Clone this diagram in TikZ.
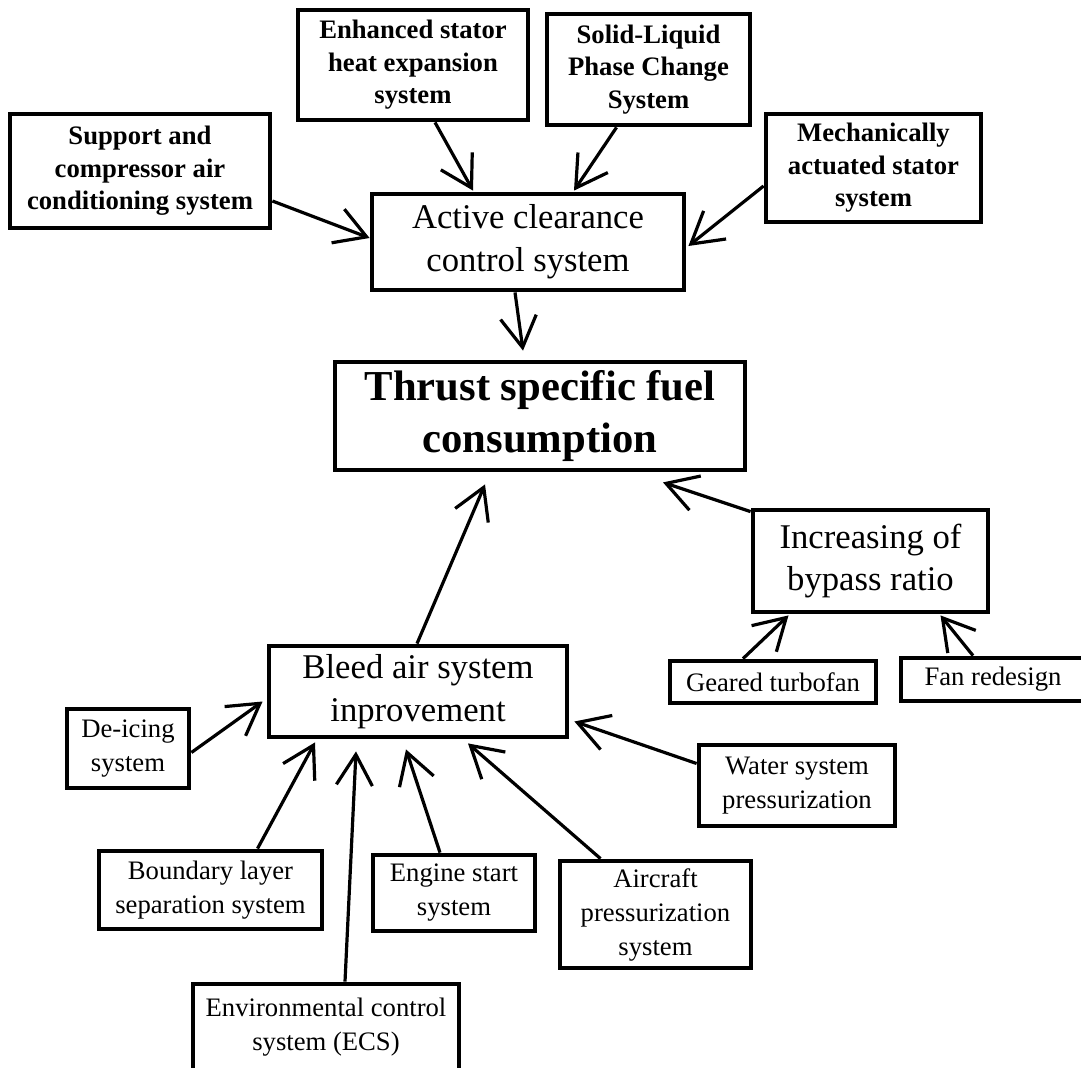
\documentclass[tikz,border=0pt]{standalone}
\usepackage{fontspec}
\setmainfont{Liberation Serif}
\usetikzlibrary{arrows.meta,calc}
\begin{document}
\begin{tikzpicture}[x=0.75pt,y=-0.75pt,
  box/.style={draw, line width=3.6pt, align=center, inner sep=0pt},
  topbox/.style={box, font=\fontsize{20}{24.4}\selectfont\bfseries},
  lowbox/.style={box, font=\fontsize{20}{25.5}\selectfont},
  midbox/.style={box, font=\fontsize{26}{32}\selectfont},
  mainbox/.style={box, font=\fontsize{32}{39}\selectfont\bfseries},
  arr/.style={-{Straight Barb[length=23pt,width=27pt]}, line width=2.4pt}]

\useasboundingbox (0,0) rectangle (1081,1067);

\node[topbox, minimum width=195pt, minimum height=85.5pt] (supp) at (140,171) {Support and\\compressor air\\conditioning system};
\node[topbox, minimum width=172.5pt, minimum height=82.5pt] (enh) at (413,65) {Enhanced stator\\heat expansion\\system};
\node[topbox, minimum width=152.25pt, minimum height=83.25pt] (sol) at (648.5,69.5) {Solid-Liquid\\Phase Change\\System};
\node[topbox, minimum width=161.25pt, minimum height=81pt] (mech) at (873.5,168) {Mechanically\\actuated stator\\system};

\node[midbox, minimum width=234pt, minimum height=72pt] (acs) at (528,242) {Active clearance\\control system};
\node[mainbox, minimum width=307.5pt, minimum height=81pt] (tsfc) at (540,416) {Thrust specific fuel\\consumption};
\node[midbox, minimum width=176.25pt, minimum height=76.5pt] (inc) at (870.5,561) {Increasing of\\bypass ratio};
\node[midbox, minimum width=223.5pt, minimum height=68.25pt] (bleed) at (418,691.5) {Bleed air system\\inprovement};

\node[lowbox, minimum width=91.5pt, minimum height=59.25pt] (deice) at (128,748.5) {De-icing\\system};
\node[lowbox, minimum width=154.5pt, minimum height=31.5pt] (geared) at (773,682) {Geared turbofan};
\node[lowbox, minimum width=138pt, minimum height=32.25pt] (fan) at (993,679.5) {Fan redesign};
\node[lowbox, minimum width=147pt, minimum height=60.75pt] (water) at (797,785.5) {Water system\\pressurization};
\node[lowbox, minimum width=167.25pt, minimum height=58.5pt] (bound) at (210.5,890) {Boundary layer\\separation system};
\node[lowbox, minimum width=121.5pt, minimum height=57pt] (engine) at (454,893) {Engine start\\system};
\node[lowbox, minimum width=143.25pt, minimum height=80.25pt] (aircr) at (655.5,914.5) {Aircraft\\pressurization\\system};
\node[lowbox, minimum width=199.5pt, minimum height=64.5pt] (ecs) at (326,1027) {Environmental control\\system (ECS)};

\draw[arr] ($(supp.east)+(0,30)$) -- ($(acs.west)+(0,-4)$);
\draw[arr] ($(enh.south)+(22,0)$) -- ($(acs.north)+(-55,-1)$);
\draw[arr] ($(sol.south)+(-32,0)$) -- ($(acs.north)+(46,-1)$);
\draw[arr] ($(mech.west)+(0,18)$) -- ($(acs.east)+(2,4)$);
\draw[arr] ($(acs.south)+(-13,0)$) -- ($(tsfc.north)+(-17,-9)$);

\draw[arr] ($(bleed.north)+(-1,0)$) -- ($(tsfc.south)+(-55,12)$);
\draw[arr] ($(inc.north west)+(0,4)$) -- ($(tsfc.south)+(123,10)$);

\draw[arr] ($(deice.east)+(0,4)$) -- ($(bleed.west)+(-4,10)$);
\draw[arr] ($(bound.north)+(47,0)$) -- ($(bleed.south)+(-103,3)$);
\draw[arr] ($(ecs.north)+(19,0)$) -- ($(bleed.south)+(-62,12)$);
\draw[arr] ($(engine.north)+(-14,0)$) -- ($(bleed.south)+(-12,10)$);
\draw[arr] ($(aircr.north)+(-55,0)$) -- ($(bleed.south)+(50,4)$);
\draw[arr] ($(water.west)+(0,-22)$) -- ($(bleed.east)+(5,30)$);

\draw[arr] ($(geared.north)+(-30,0)$) -- ($(inc.south)+(-82,1)$);
\draw[arr] ($(fan.north)+(-20,0)$) -- ($(inc.south)+(70,1)$);

\end{tikzpicture}
\end{document}
